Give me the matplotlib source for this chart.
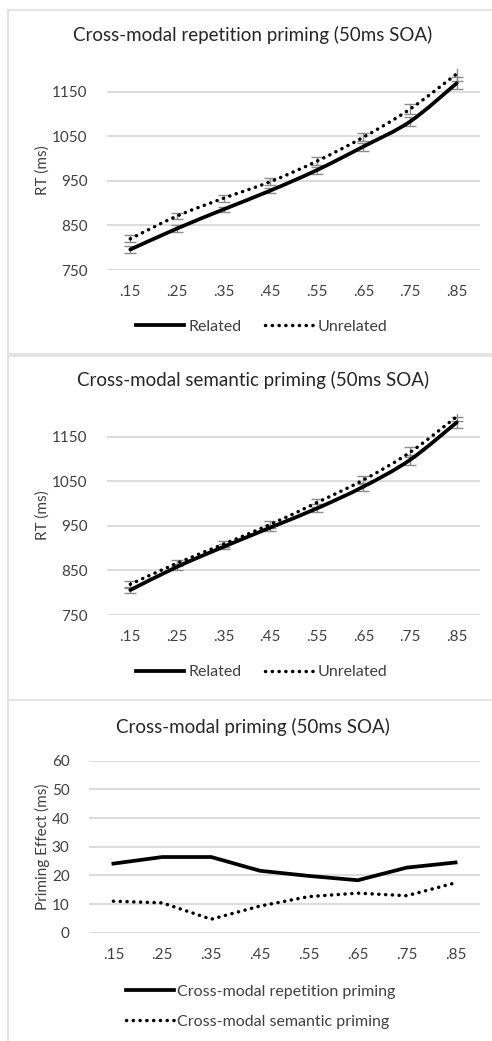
import matplotlib
matplotlib.use("Agg")
import matplotlib.pyplot as plt
from matplotlib.path import Path
from matplotlib.patches import PathPatch, Rectangle
from matplotlib.lines import Line2D
import numpy as np

plt.rcParams['font.family'] = ['Lato', 'DejaVu Sans']

# =============================================================================
# data
# =============================================================================
props = ['.15', '.25', '.35', '.45', '.55', '.65', '.75', '.85']

rep_related = [796, 843, 886, 928, 974, 1027, 1083, 1169]
rep_related_err = [7, 7, 6, 6, 8, 9, 11, 13]
rep_unrelated = [820, 871, 911, 948, 994, 1048, 1111, 1190]
rep_unrelated_err = [8, 7, 8, 8, 9, 9, 11, 16]

sem_related = [806, 858, 903, 946, 989, 1038, 1098, 1182]
sem_related_err = [7, 7, 6, 7, 9, 9, 11, 12]
sem_unrelated = [819, 866, 909, 953, 1002, 1053, 1115, 1195]
sem_unrelated_err = [8, 7, 7, 7, 9, 9, 11, 10]

rep_effect = [24.1, 26.4, 26.4, 21.6, 19.8, 18.3, 22.7, 24.5]
sem_effect = [11.0, 10.4, 4.7, 9.3, 12.6, 13.8, 12.9, 17.4]

W, H = 492, 1041
GRID = '#d9d9d9'
TXT = '#404040'
DOT = (0, (0.05, 1.9))
LW_SOLID = 2.7
LW_DOT = 2.5


def smooth_path(x, y):
    # excel-like smoothed line as bezier segments
    x = np.asarray(x, float)
    y = np.asarray(y, float)
    n = len(x)
    verts = [(x[0], y[0])]
    codes = [Path.MOVETO]
    for i in range(n - 1):
        i0 = max(i - 1, 0)
        i3 = min(i + 2, n - 1)
        c1 = (x[i] + (x[i + 1] - x[i0]) / 6, y[i] + (y[i + 1] - y[i0]) / 6)
        c2 = (x[i + 1] - (x[i3] - x[i]) / 6, y[i + 1] - (y[i3] - y[i]) / 6)
        verts += [c1, c2, (x[i + 1], y[i + 1])]
        codes += [Path.CURVE4] * 3
    return Path(verts, codes)


def px_axes(fig, left, right, top, bottom):
    return fig.add_axes([left / W, 1 - bottom / H, (right - left) / W, (bottom - top) / H])


def style(ax, yticks):
    for s in ax.spines.values():
        s.set_visible(False)
    ax.set_yticks(yticks)
    ax.yaxis.grid(True, color=GRID, lw=1.3)
    ax.set_axisbelow(True)
    ax.tick_params(length=0, labelsize=11, labelcolor=TXT)
    ax.tick_params(axis='x', pad=11)
    ax.tick_params(axis='y', pad=14)
    ax.set_xlim(-0.5, len(props) - 0.5)
    ax.set_xticks(range(len(props)))
    ax.set_xticklabels(props)


fig = plt.figure(figsize=(W / 100, H / 100), dpi=100)

# panel frames
for top in [10, 354, 700]:
    fig.patches.append(Rectangle((8 / W, 1 - (top + 346) / H), 600 / W, 346 / H,
                                 transform=fig.transFigure, fill=False,
                                 edgecolor='#e3e3e3', lw=1.4))

x = np.arange(len(props))
panels = [
    (0, 'Cross-modal repetition priming (50ms SOA)',
     rep_related, rep_related_err, rep_unrelated, rep_unrelated_err),
    (345, 'Cross-modal semantic priming (50ms SOA)',
     sem_related, sem_related_err, sem_unrelated, sem_unrelated_err),
]
for off, title, rel, rel_e, unr, unr_e in panels:
    ax = px_axes(fig, 107, 480, 69.4 + off, 270 + off)
    style(ax, [750, 850, 950, 1050, 1150])
    ax.set_ylim(750, 1200)
    ax.errorbar(x, unr, yerr=unr_e, fmt='none', ecolor='#8c8c8c', elinewidth=1,
                capsize=4, capthick=1, zorder=2)
    ax.errorbar(x, rel, yerr=rel_e, fmt='none', ecolor='#8c8c8c', elinewidth=1,
                capsize=4, capthick=1, zorder=2)
    p1 = PathPatch(smooth_path(x, rel), fill=False, edgecolor='black', lw=LW_SOLID,
                   capstyle='round', zorder=3)
    p2 = PathPatch(smooth_path(x, unr), fill=False, edgecolor='black', lw=LW_DOT,
                   linestyle=DOT, capstyle='round', zorder=3)
    ax.add_patch(p1)
    ax.add_patch(p2)
    ax.set_ylabel('RT (ms)', fontsize=11, color=TXT)
    ax.yaxis.set_label_coords(-0.153, 0.5)
    fig.text(253 / W, 1 - (35 + off) / H, title, ha='center', va='center',
             fontsize=13.5, color='#262626')
    h1 = Line2D([], [], color='black', lw=LW_SOLID)
    h2 = Line2D([], [], color='black', lw=LW_DOT, linestyle=DOT, dash_capstyle='round')
    ax.legend([h1, h2], ['Related', 'Unrelated'], loc='center',
              bbox_to_anchor=(0.415, 1 - (327 - 69.4) / (270 - 69.4)),
              ncol=2, frameon=False, fontsize=11.5, handlelength=3.0,
              handletextpad=0.25, columnspacing=1.5, labelcolor=TXT)

# priming effect panel
ax = px_axes(fig, 89, 480, 760.7, 932.7)
style(ax, [0, 10, 20, 30, 40, 50, 60])
ax.set_ylim(0, 60)
ax.plot(x, rep_effect, color='black', lw=LW_SOLID, solid_joinstyle='round', zorder=3)
ax.plot(x, sem_effect, color='black', lw=LW_DOT, linestyle=DOT, dash_capstyle='round', zorder=3)
ax.set_ylabel('Priming Effect (ms)', fontsize=11, color=TXT)
ax.yaxis.set_label_coords(-0.10, 0.5)
fig.text(253 / W, 1 - 727 / H, 'Cross-modal priming (50ms SOA)', ha='center',
         va='center', fontsize=13.5, color='#262626')
h1 = Line2D([], [], color='black', lw=LW_SOLID)
h2 = Line2D([], [], color='black', lw=LW_DOT, linestyle=DOT, dash_capstyle='round')
ax.legend([h1, h2], ['Cross-modal repetition priming', 'Cross-modal semantic priming'],
          loc='upper left', bbox_to_anchor=((112 - 89) / 391, 1 - (970 - 760.7) / 172),
          frameon=False, fontsize=11.5, handlelength=3.0, handletextpad=0.15,
          labelspacing=1.0, labelcolor=TXT)

fig.savefig('out.png', dpi=100)
